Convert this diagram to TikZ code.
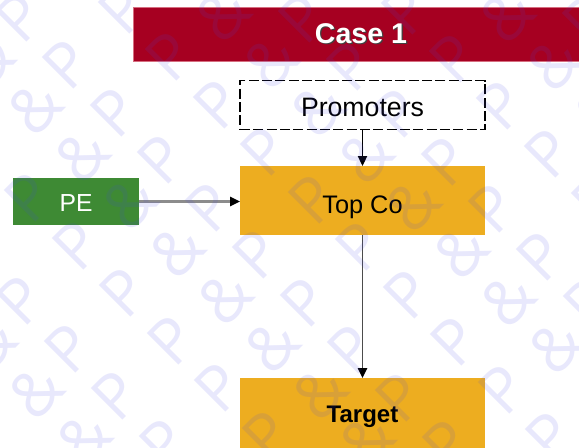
\documentclass[tikz,border=0pt]{standalone}
\usepackage{fontspec}
\setmainfont{Liberation Sans}
\newfontfamily\markfont{Open Sans}
\usetikzlibrary{arrows.meta}

\definecolor{hdrred}{RGB}{166,0,33}
\definecolor{hdredge}{RGB}{214,110,128}
\definecolor{boxorange}{RGB}{237,173,32}
\definecolor{boxgreen}{RGB}{62,138,52}
\definecolor{markblue}{RGB}{70,70,235}

\tikzset{
  box/.style={rectangle, inner sep=0pt, outer sep=0pt, minimum width=183.75pt,
              text depth=0pt, font=\fontsize{19}{22}\selectfont},
  orangebox/.style={box, fill=boxorange},
  dashbox/.style={box, draw=black, line width=1.2pt, dash pattern=on 7.5pt off 2.5pt, fill=white},
  tip/.style={-{Triangle[length=7.5pt,width=7pt,color=black]}},
  hdrfont/.style={font=\bfseries\fontsize{21.4}{24}\selectfont, text height=13.8pt, text depth=0pt},
  wm/.style={font=\markfont\fontsize{47}{50}\selectfont, text=markblue, text opacity=0.12,
             rotate=45, inner sep=0pt},
}

\begin{document}
\begin{tikzpicture}[x=0.75pt,y=-0.75pt]
\useasboundingbox (0,0) rectangle (579,447);
\clip (0,0) rectangle (579,447);
\fill[white] (0,0) rectangle (579,447);

% banner
\node[rectangle, fill=hdrred, draw=hdredge, line width=0.6pt, inner sep=0pt,
      minimum width=342pt, minimum height=40.5pt] (hdr) at (361,34) {};
\node[hdrfont, text=black!75] (hdrshadow) at ([shift={(1.2,1.2)}]hdr.center) {Case 1};
\node[hdrfont, text=white] (hdrtext) at (hdr.center) {Case 1};

% boxes
\node[dashbox, minimum height=36.5pt, text height=16.5pt,
      font=\fontsize{20}{23}\selectfont] (prom) at (362.5,105) {Promoters};
\node[orangebox, minimum height=51.75pt, text height=18.8pt] (topco) at (362.5,200.5) {Top Co};
\node[rectangle, fill=boxgreen, text=white, inner sep=0pt, outer sep=0pt,
      minimum width=94.5pt, minimum height=35.25pt, text height=14.7pt, text depth=0pt,
      font=\fontsize{18.5}{22}\selectfont] (pe) at (76,201.5) {PE};
\node[orangebox, minimum height=52.5pt, text height=13.6pt,
      font=\bfseries\fontsize{18}{22}\selectfont] (target) at (362.5,413) {Target};

% connectors
\draw[tip, draw=black, line width=0.8pt] (prom.south -| topco.north) -- (topco.north);
\draw[tip, draw=black!45, line width=1.6pt] (pe.east) -- (pe.east -| topco.west);
\draw[tip, draw=black!70, line width=1.1pt] (topco.south) -- (target.north);

% watermark
\foreach \m in {-4,...,8} {
  \foreach \k in {-2,...,3} {
    \pgfmathsetmacro\bp{322+95*\m}
    \pgfmathsetmacro\ba{332+95*\m}
    \pgfmathsetmacro\aone{-168+282*\k}
    \pgfmathsetmacro\aamp{-73+282*\k}
    \pgfmathsetmacro\atwo{3+282*\k}
    \node[wm] (wmp-\m-\k) at ({(\aone+\bp)/2},{(\bp-\aone)/2}) {P};
    \node[wm] (wma-\m-\k) at ({(\aamp+\ba)/2},{(\ba-\aamp)/2}) {\&};
    \node[wm] (wmq-\m-\k) at ({(\atwo+\bp)/2},{(\bp-\atwo)/2}) {P};
  }
}
\end{tikzpicture}
\end{document}
